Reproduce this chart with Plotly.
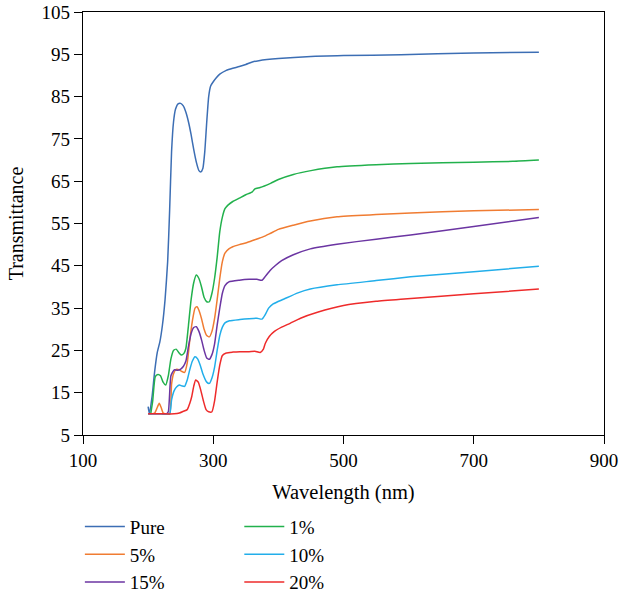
import plotly.graph_objects as go

# ---------------- data ----------------
pure_wl = [200, 202, 206, 210, 214, 218, 222, 226, 230, 233, 236, 239, 242, 246, 250, 254, 258, 262, 266, 270,
           274, 278, 281, 284, 287, 290, 293, 296, 300, 305, 310, 320, 330, 340, 350, 360, 370, 400, 450, 500,
           588, 700, 800]
pure_t = [11.7, 10.0, 14.0, 20.0, 24.5, 27.0, 31.0, 37.0, 46.0, 58.0, 72.0, 79.0, 82.0, 83.3, 83.4, 82.8, 81.3,
          79.0, 76.0, 72.5, 69.5, 67.5, 67.2, 68.0, 72.0, 79.0, 85.0, 87.5, 88.5, 89.5, 90.3, 91.2, 91.7, 92.1,
          92.6, 93.2, 93.5, 94.0, 94.5, 94.7, 94.9, 95.3, 95.5]

p1_wl = [204, 207, 211, 215, 219, 223, 227, 231, 235, 239, 243, 247, 251, 255, 258, 262, 266, 270, 274, 278,
         282, 286, 290, 294, 298, 302, 306, 310, 314, 318, 323, 330, 340, 350, 360, 364, 372, 388, 400, 423,
         450, 490, 550, 603, 700, 760, 800]
p1_t = [10.0, 13.0, 18.8, 19.3, 19.0, 17.5, 16.8, 19.0, 23.0, 25.0, 25.3, 24.5, 23.9, 24.3, 25.5, 31.0, 37.0,
        41.0, 42.8, 42.0, 40.0, 37.5, 36.5, 36.5, 38.5, 42.0, 47.0, 53.0, 56.5, 58.5, 59.4, 60.2, 61.0, 61.8,
        62.5, 63.2, 63.5, 64.5, 65.4, 66.6, 67.5, 68.4, 68.9, 69.2, 69.5, 69.7, 70.0]

p5_wl = [200, 210, 214, 217, 220, 223, 226, 233, 236, 239, 243, 248, 252, 256, 260, 264, 268, 272, 275, 278,
         282, 286, 290, 294, 298, 302, 306, 310, 314, 318, 324, 330, 340, 352, 365, 377, 388, 400, 423, 449,
         490, 550, 603, 700, 800]
p5_t = [10.0, 10.2, 11.5, 12.5, 11.5, 10.2, 10.0, 10.0, 17.0, 19.5, 20.5, 20.4, 20.0, 19.8, 22.0, 27.5, 32.0,
        35.0, 35.3, 34.5, 32.5, 30.0, 28.5, 28.2, 29.5, 32.5, 37.0, 42.0, 46.0, 48.0, 49.0, 49.5, 50.0, 50.5,
        51.2, 51.9, 52.7, 53.6, 54.6, 55.6, 56.6, 57.1, 57.5, 58.0, 58.3]

p15_wl = [200, 210, 220, 228, 231, 235, 240, 245, 250, 254, 258, 262, 266, 270, 274, 278, 282, 286, 290, 294,
          298, 302, 306, 310, 314, 318, 324, 340, 355, 367, 375, 380, 388, 395, 405, 423, 449, 490, 550, 603,
          700, 800]
p15_t = [10.0, 10.0, 10.0, 10.0, 10.5, 19.0, 20.4, 20.3, 20.6, 21.2, 22.5, 26.0, 29.0, 30.4, 30.6, 29.5, 27.5,
         25.0, 23.2, 22.9, 24.0, 26.5, 31.0, 35.0, 38.5, 40.3, 41.2, 41.6, 41.8, 41.8, 41.6, 42.5, 44.0, 45.0,
         46.2, 47.6, 49.0, 50.1, 51.3, 52.3, 54.3, 56.4]

p10_wl = [200, 215, 225, 233, 236, 240, 244, 248, 252, 256, 260, 264, 268, 272, 276, 280, 284, 290, 294, 298,
          302, 306, 310, 314, 318, 325, 341, 355, 367, 375, 380, 385, 392, 408, 430, 449, 490, 550, 603, 700,
          800]
p10_t = [10.0, 10.0, 10.0, 10.0, 13.3, 15.5, 16.4, 16.8, 16.6, 16.5, 18.0, 20.5, 22.5, 23.5, 23.0, 21.5, 19.5,
         17.5, 17.2, 18.5, 21.0, 25.0, 28.5, 30.5, 31.5, 32.0, 32.3, 32.5, 32.6, 32.4, 33.5, 35.0, 36.0, 37.1,
         38.6, 39.5, 40.5, 41.5, 42.4, 43.6, 44.9]

p20_wl = [200, 220, 240, 248, 254, 260, 264, 267, 270, 273, 277, 281, 285, 289, 293, 298, 302, 306, 310, 314,
          320, 330, 341, 355, 364, 372, 377, 380, 386, 393, 405, 418, 434, 460, 500, 550, 588, 700, 800]
p20_t = [10.0, 10.0, 10.0, 10.2, 10.6, 11.0, 12.5, 14.1, 16.5, 18.0, 17.5, 15.5, 13.0, 11.0, 10.5, 10.5, 13.0,
         17.5, 21.5, 23.8, 24.4, 24.6, 24.7, 24.7, 24.8, 24.5, 25.3, 26.7, 28.3, 29.4, 30.5, 31.4, 32.6, 34.0,
         35.6, 36.6, 37.1, 38.4, 39.5]

series = [
    ("Pure", pure_wl, pure_t, "#3C6EB4", "legend"),
    ("5%", p5_wl, p5_t, "#F07C32", "legend"),
    ("15%", p15_wl, p15_t, "#6B35A2", "legend"),
    ("1%", p1_wl, p1_t, "#22B14C", "legend2"),
    ("10%", p10_wl, p10_t, "#22AEEA", "legend2"),
    ("20%", p20_wl, p20_t, "#EE2B2B", "legend2"),
]

x_ticks = [100, 300, 500, 700, 900]
y_ticks = [5, 15, 25, 35, 45, 55, 65, 75, 85, 95, 105]

# ---------------- figure ----------------
FONT = "Liberation Serif"
fig = go.Figure()
for name, wl, t, col, lg in series:
    fig.add_trace(go.Scatter(
        x=wl, y=t, name=name, mode="lines",
        line=dict(color=col, width=1.5, shape="spline", smoothing=0.5),
        legend=lg, legendgroup=name,
    ))

axis_common = dict(
    showline=True, linecolor="black", linewidth=1.3, mirror=True,
    ticks="outside", ticklen=8, tickwidth=1.3, tickcolor="black",
    showgrid=False, zeroline=False, automargin=False,
    tickfont=dict(family=FONT, size=19, color="black"),
)

fig.update_layout(
    width=621, height=597,
    margin=dict(l=83, r=17, t=12, b=162, autoexpand=False),
    paper_bgcolor="white", plot_bgcolor="white",
    font=dict(family=FONT, size=20, color="black"),
    xaxis=dict(range=[100, 900], tickvals=x_ticks, ticktext=[str(v) for v in x_ticks],
               title=dict(text="Wavelength (nm)", font=dict(family=FONT, size=20.5), standoff=14),
               **axis_common),
    yaxis=dict(range=[5, 105], tickvals=y_ticks, ticktext=[str(v) for v in y_ticks],
               title=dict(text="Transmittance", font=dict(family=FONT, size=20), standoff=12),
               **axis_common),
    legend=dict(x=-0.006, y=-0.172, xanchor="left", yanchor="top", orientation="v",
                font=dict(family=FONT, size=19), tracegroupgap=0, itemwidth=40,
                bgcolor="rgba(0,0,0,0)"),
    legend2=dict(x=0.30, y=-0.172, xanchor="left", yanchor="top", orientation="v",
                 font=dict(family=FONT, size=19), tracegroupgap=0, itemwidth=40,
                 bgcolor="rgba(0,0,0,0)"),
    showlegend=True,
)

fig.write_html("out.html")
